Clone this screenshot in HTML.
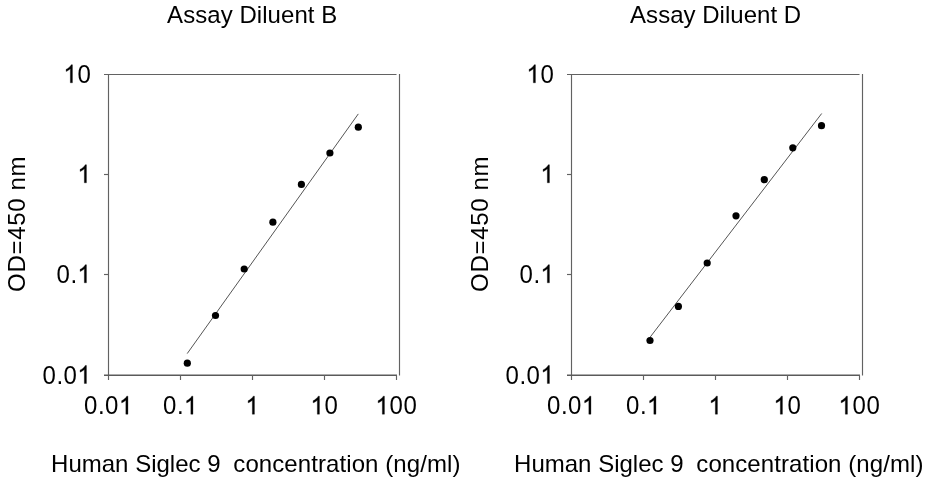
<!DOCTYPE html>
<html><head><meta charset="utf-8"><style>
html,body{margin:0;padding:0;background:#fff;overflow:hidden;}
svg{display:block;will-change:transform;}
text{font-family:"Liberation Sans",sans-serif;font-size:24px;fill:#000;stroke:#000;stroke-width:0.0px;}
path.g{fill:#000;}
</style></head><body>
<svg width="926" height="480" viewBox="0 0 926 480">
<rect width="926" height="480" fill="#fff"/>
<g fill="#000">
<path d="M104.0 74.5H396.5M108.5 74.0V380.0M399.5 74.0V375.59999999999997" stroke="#626262" stroke-width="1.15" fill="none"/>
<path d="M104.0 375.2H397.0" stroke="#5a5a5a" stroke-width="1.4" fill="none"/>
<path d="M104.0 174.5H108.5" stroke="#626262" stroke-width="1.15"/>
<path d="M104.0 274.5H108.5" stroke="#626262" stroke-width="1.15"/>
<path d="M180.5 375.2V380.0" stroke="#626262" stroke-width="1.15"/>
<path d="M252.5 375.2V380.0" stroke="#626262" stroke-width="1.15"/>
<path d="M324.5 375.2V380.0" stroke="#626262" stroke-width="1.15"/>
<path d="M396.5 375.2V380.0" stroke="#626262" stroke-width="1.15"/>
<path d="M187.2 353.6L358.3 113.9" stroke="#555" stroke-width="1.0"/>
<circle cx="187.3" cy="363.2" r="3.6" fill="#000"/>
<circle cx="215.5" cy="315.5" r="3.6" fill="#000"/>
<circle cx="244.2" cy="269.0" r="3.6" fill="#000"/>
<circle cx="272.9" cy="222.2" r="3.6" fill="#000"/>
<circle cx="301.4" cy="184.4" r="3.6" fill="#000"/>
<circle cx="329.9" cy="153.0" r="3.6" fill="#000"/>
<circle cx="358.3" cy="127.2" r="3.6" fill="#000"/>
<path transform="translate(63.50 82.8) scale(0.011719 -0.012188)" d="M763 0H583V1147Q518 1085 413 1023Q309 961 223 930V1104Q378 1177 494 1281Q610 1385 658 1483H763Z" stroke="#000" stroke-width="25.6"/>
<text transform="translate(77.50 82.8) scale(1 1.05)">0</text>
<path transform="translate(77.50 182.8) scale(0.011719 -0.012188)" d="M763 0H583V1147Q518 1085 413 1023Q309 961 223 930V1104Q378 1177 494 1281Q610 1385 658 1483H763Z" stroke="#000" stroke-width="25.6"/>
<text transform="translate(56.50 282.8) scale(1 1.05)">0</text>
<text transform="translate(70.50 282.8) scale(1 1.05)">.</text>
<path transform="translate(77.50 282.8) scale(0.011719 -0.012188)" d="M763 0H583V1147Q518 1085 413 1023Q309 961 223 930V1104Q378 1177 494 1281Q610 1385 658 1483H763Z" stroke="#000" stroke-width="25.6"/>
<text transform="translate(42.50 383.5) scale(1 1.05)">0</text>
<text transform="translate(56.50 383.5) scale(1 1.05)">.</text>
<text transform="translate(63.50 383.5) scale(1 1.05)">0</text>
<path transform="translate(77.50 383.5) scale(0.011719 -0.012188)" d="M763 0H583V1147Q518 1085 413 1023Q309 961 223 930V1104Q378 1177 494 1281Q610 1385 658 1483H763Z" stroke="#000" stroke-width="25.6"/>
<text transform="translate(84.00 414.2) scale(1 1.05)">0</text>
<text transform="translate(98.00 414.2) scale(1 1.05)">.</text>
<text transform="translate(105.00 414.2) scale(1 1.05)">0</text>
<path transform="translate(119.00 414.2) scale(0.011719 -0.012188)" d="M763 0H583V1147Q518 1085 413 1023Q309 961 223 930V1104Q378 1177 494 1281Q610 1385 658 1483H763Z" stroke="#000" stroke-width="25.6"/>
<text transform="translate(163.00 414.2) scale(1 1.05)">0</text>
<text transform="translate(177.00 414.2) scale(1 1.05)">.</text>
<path transform="translate(184.00 414.2) scale(0.011719 -0.012188)" d="M763 0H583V1147Q518 1085 413 1023Q309 961 223 930V1104Q378 1177 494 1281Q610 1385 658 1483H763Z" stroke="#000" stroke-width="25.6"/>
<path transform="translate(245.50 414.2) scale(0.011719 -0.012188)" d="M763 0H583V1147Q518 1085 413 1023Q309 961 223 930V1104Q378 1177 494 1281Q610 1385 658 1483H763Z" stroke="#000" stroke-width="25.6"/>
<path transform="translate(310.50 414.2) scale(0.011719 -0.012188)" d="M763 0H583V1147Q518 1085 413 1023Q309 961 223 930V1104Q378 1177 494 1281Q610 1385 658 1483H763Z" stroke="#000" stroke-width="25.6"/>
<text transform="translate(324.50 414.2) scale(1 1.05)">0</text>
<path transform="translate(375.50 414.2) scale(0.011719 -0.012188)" d="M763 0H583V1147Q518 1085 413 1023Q309 961 223 930V1104Q378 1177 494 1281Q610 1385 658 1483H763Z" stroke="#000" stroke-width="25.6"/>
<text transform="translate(389.50 414.2) scale(1 1.05)">0</text>
<text transform="translate(403.50 414.2) scale(1 1.05)">0</text>
<text transform="translate(167.1 23.2) scale(1 1.03)" textLength="170.2" lengthAdjust="spacing">Assay Diluent B</text>
<text transform="translate(51.1 471.8) scale(1 1.0)">Human Siglec 9</text>
<text transform="translate(233.3 471.8) scale(1 1.0)" textLength="227.2" lengthAdjust="spacing">concentration (ng/ml)</text>
<text transform="translate(25.4 291.9) rotate(-90) scale(1 1.0)" x="0" y="0" style="font-size:24px" textLength="135.5" lengthAdjust="spacing">OD=450 nm</text>
<path d="M567.0 74.5H859.5M571.5 74.0V380.0M862.5 74.0V375.59999999999997" stroke="#626262" stroke-width="1.15" fill="none"/>
<path d="M567.0 375.2H860.0" stroke="#5a5a5a" stroke-width="1.4" fill="none"/>
<path d="M567.0 174.5H571.5" stroke="#626262" stroke-width="1.15"/>
<path d="M567.0 274.5H571.5" stroke="#626262" stroke-width="1.15"/>
<path d="M643.5 375.2V380.0" stroke="#626262" stroke-width="1.15"/>
<path d="M715.5 375.2V380.0" stroke="#626262" stroke-width="1.15"/>
<path d="M787.5 375.2V380.0" stroke="#626262" stroke-width="1.15"/>
<path d="M859.5 375.2V380.0" stroke="#626262" stroke-width="1.15"/>
<path d="M650 337.3L821.7 113.5" stroke="#555" stroke-width="1.0"/>
<circle cx="650.0" cy="340.5" r="3.6" fill="#000"/>
<circle cx="678.4" cy="306.4" r="3.6" fill="#000"/>
<circle cx="707.2" cy="263.0" r="3.6" fill="#000"/>
<circle cx="736.0" cy="215.8" r="3.6" fill="#000"/>
<circle cx="764.3" cy="179.7" r="3.6" fill="#000"/>
<circle cx="792.8" cy="147.8" r="3.6" fill="#000"/>
<circle cx="821.5" cy="125.7" r="3.6" fill="#000"/>
<path transform="translate(526.50 82.8) scale(0.011719 -0.012188)" d="M763 0H583V1147Q518 1085 413 1023Q309 961 223 930V1104Q378 1177 494 1281Q610 1385 658 1483H763Z" stroke="#000" stroke-width="25.6"/>
<text transform="translate(540.50 82.8) scale(1 1.05)">0</text>
<path transform="translate(540.50 182.8) scale(0.011719 -0.012188)" d="M763 0H583V1147Q518 1085 413 1023Q309 961 223 930V1104Q378 1177 494 1281Q610 1385 658 1483H763Z" stroke="#000" stroke-width="25.6"/>
<text transform="translate(519.50 282.8) scale(1 1.05)">0</text>
<text transform="translate(533.50 282.8) scale(1 1.05)">.</text>
<path transform="translate(540.50 282.8) scale(0.011719 -0.012188)" d="M763 0H583V1147Q518 1085 413 1023Q309 961 223 930V1104Q378 1177 494 1281Q610 1385 658 1483H763Z" stroke="#000" stroke-width="25.6"/>
<text transform="translate(505.50 383.5) scale(1 1.05)">0</text>
<text transform="translate(519.50 383.5) scale(1 1.05)">.</text>
<text transform="translate(526.50 383.5) scale(1 1.05)">0</text>
<path transform="translate(540.50 383.5) scale(0.011719 -0.012188)" d="M763 0H583V1147Q518 1085 413 1023Q309 961 223 930V1104Q378 1177 494 1281Q610 1385 658 1483H763Z" stroke="#000" stroke-width="25.6"/>
<text transform="translate(547.00 414.2) scale(1 1.05)">0</text>
<text transform="translate(561.00 414.2) scale(1 1.05)">.</text>
<text transform="translate(568.00 414.2) scale(1 1.05)">0</text>
<path transform="translate(582.00 414.2) scale(0.011719 -0.012188)" d="M763 0H583V1147Q518 1085 413 1023Q309 961 223 930V1104Q378 1177 494 1281Q610 1385 658 1483H763Z" stroke="#000" stroke-width="25.6"/>
<text transform="translate(626.00 414.2) scale(1 1.05)">0</text>
<text transform="translate(640.00 414.2) scale(1 1.05)">.</text>
<path transform="translate(647.00 414.2) scale(0.011719 -0.012188)" d="M763 0H583V1147Q518 1085 413 1023Q309 961 223 930V1104Q378 1177 494 1281Q610 1385 658 1483H763Z" stroke="#000" stroke-width="25.6"/>
<path transform="translate(708.50 414.2) scale(0.011719 -0.012188)" d="M763 0H583V1147Q518 1085 413 1023Q309 961 223 930V1104Q378 1177 494 1281Q610 1385 658 1483H763Z" stroke="#000" stroke-width="25.6"/>
<path transform="translate(773.50 414.2) scale(0.011719 -0.012188)" d="M763 0H583V1147Q518 1085 413 1023Q309 961 223 930V1104Q378 1177 494 1281Q610 1385 658 1483H763Z" stroke="#000" stroke-width="25.6"/>
<text transform="translate(787.50 414.2) scale(1 1.05)">0</text>
<path transform="translate(838.50 414.2) scale(0.011719 -0.012188)" d="M763 0H583V1147Q518 1085 413 1023Q309 961 223 930V1104Q378 1177 494 1281Q610 1385 658 1483H763Z" stroke="#000" stroke-width="25.6"/>
<text transform="translate(852.50 414.2) scale(1 1.05)">0</text>
<text transform="translate(866.50 414.2) scale(1 1.05)">0</text>
<text transform="translate(630.1 23.2) scale(1 1.03)" textLength="171.0" lengthAdjust="spacing">Assay Diluent D</text>
<text transform="translate(514.1 471.8) scale(1 1.0)">Human Siglec 9</text>
<text transform="translate(696.3 471.8) scale(1 1.0)" textLength="227.2" lengthAdjust="spacing">concentration (ng/ml)</text>
<text transform="translate(488.4 291.9) rotate(-90) scale(1 1.0)" x="0" y="0" style="font-size:24px" textLength="135.5" lengthAdjust="spacing">OD=450 nm</text>
</g>
</svg>
</body></html>
